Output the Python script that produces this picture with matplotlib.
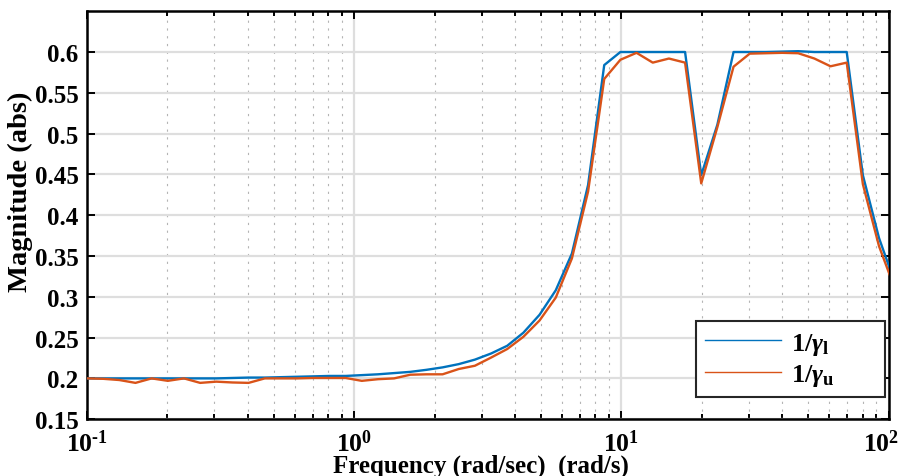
import matplotlib
matplotlib.use("Agg")
import matplotlib.pyplot as plt
import matplotlib.transforms as mtransforms
from matplotlib.ticker import FixedLocator, FixedFormatter, LogLocator, NullFormatter

# Frequency grid (rad/s), log spaced
freq = [0.1, 0.1149, 0.1321, 0.1519, 0.1746, 0.2007, 0.2307, 0.2652, 0.3048,
        0.3503, 0.4027, 0.4629, 0.5321, 0.6116, 0.7031, 0.8082, 0.9290, 1.068,
        1.227, 1.411, 1.622, 1.864, 2.143, 2.463, 2.831, 3.254, 3.741, 4.300,
        4.943, 5.683, 6.531, 7.508, 8.630, 9.920, 11.40, 13.11, 15.07, 17.32,
        19.91, 22.88, 26.30, 30.24, 34.75, 39.95, 45.92, 52.79, 60.67, 69.75,
        80.17, 92.15, 105.9]

# 1/gamma_l (lower bound)
inv_gamma_l = [0.200, 0.200, 0.200, 0.200, 0.200, 0.200, 0.200, 0.200, 0.200,
               0.2005, 0.201, 0.201, 0.2015, 0.202, 0.2025, 0.203, 0.203, 0.204,
               0.205, 0.2065, 0.208, 0.2105, 0.2135, 0.2175, 0.223, 0.2305, 0.240,
               0.256, 0.278, 0.308, 0.353, 0.437, 0.584, 0.600, 0.600, 0.600,
               0.600, 0.600, 0.449, 0.511, 0.600, 0.600, 0.600, 0.6005, 0.601,
               0.600, 0.600, 0.600, 0.449, 0.372, 0.316]

# 1/gamma_u (upper bound)
inv_gamma_u = [0.200, 0.1995, 0.198, 0.1945, 0.200, 0.197, 0.200, 0.1945, 0.196,
               0.195, 0.1945, 0.200, 0.200, 0.200, 0.2005, 0.2005, 0.2005, 0.197,
               0.199, 0.200, 0.2045, 0.205, 0.205, 0.2115, 0.2155, 0.2255, 0.236,
               0.251, 0.271, 0.299, 0.347, 0.429, 0.567, 0.5905, 0.599, 0.587,
               0.592, 0.587, 0.439, 0.508, 0.582, 0.598, 0.5985, 0.599, 0.5985,
               0.592, 0.5825, 0.587, 0.438, 0.362, 0.309]

x_ticks = [0.1, 1, 10, 100]
x_tick_labels = [r"$10^{\text{-}1}$", r"$10^{0}$", r"$10^{1}$", r"$10^{2}$"]
y_ticks = [0.15, 0.2, 0.25, 0.3, 0.35, 0.4, 0.45, 0.5, 0.55, 0.6]
y_tick_labels = ["0.15", "0.2", "0.25", "0.3", "0.35", "0.4", "0.45", "0.5", "0.55", "0.6"]

plt.rcParams.update({
    "font.family": ["Liberation Serif", "DejaVu Serif"],
    "font.weight": "bold",
    "mathtext.fontset": "custom",
    "mathtext.rm": "Liberation Serif:bold",
    "mathtext.it": "Liberation Serif:italic:bold",
    "mathtext.bf": "Liberation Serif:bold",
})

BLUE = "#0072BD"
ORANGE = "#D95319"

fig = plt.figure(figsize=(9.06, 4.77), dpi=100)
ax = fig.add_axes([0.0960, 0.1191, 0.8847, 0.8553])

ax.plot(freq, inv_gamma_l, color=BLUE, lw=1.7, label=r"$1/\gamma_{\mathrm{l}}$", zorder=3)
ax.plot(freq, inv_gamma_u, color=ORANGE, lw=1.7, label=r"$1/\gamma_{\mathrm{u}}$", zorder=4)

ax.set_xscale("log")
ax.set_xlim(0.1, 100)
ax.set_ylim(0.15, 0.65)

ax.xaxis.set_major_locator(FixedLocator(x_ticks))
ax.xaxis.set_major_formatter(FixedFormatter(x_tick_labels))
ax.xaxis.set_minor_locator(LogLocator(base=10, subs=range(2, 10), numticks=20))
ax.xaxis.set_minor_formatter(NullFormatter())
ax.yaxis.set_major_locator(FixedLocator(y_ticks))
ax.yaxis.set_major_formatter(FixedFormatter(y_tick_labels))

ax.grid(True, which="major", color="#dedede", lw=1.6, ls="-", zorder=0)
ax.grid(True, which="minor", axis="x", color="#b4b4b4", lw=0.8, ls=(0, (2, 5)), zorder=0)
ax.set_axisbelow(True)

ax.tick_params(which="both", direction="in", top=True, right=True, width=1.4, pad=6)
ax.tick_params(axis="y", labelsize=18)
ax.tick_params(axis="x", labelsize=18.5, pad=7)
ax.tick_params(which="major", length=6)
ax.tick_params(which="minor", length=3.5)
for s in ax.spines.values():
    s.set_linewidth(1.8)
    s.set_color("black")

# keep the rightmost decade label inside the figure
last = ax.xaxis.get_majorticklabels()[-1]
last.set_transform(last.get_transform() +
                   mtransforms.ScaledTranslation(-7 / 100, 0, fig.dpi_scale_trans))

ax.set_xlabel("Frequency (rad/sec)  (rad/s)", fontsize=18, fontweight="bold")
ax.xaxis.set_label_coords(0.491, -0.085)
ax.set_ylabel("Magnitude (abs)", fontsize=20.5, fontweight="bold")
ax.yaxis.set_label_coords(-0.067, 0.56)

leg = ax.legend(loc="lower left", bbox_to_anchor=(0.760, 0.054, 0.236, 0.196),
                mode="expand", borderaxespad=0, fontsize=19, fancybox=False,
                edgecolor="#262626", framealpha=1, handlelength=2.85,
                handletextpad=0.4, borderpad=0.35, labelspacing=0.2)
leg.get_frame().set_linewidth(1.5)
for line in leg.get_lines():
    line.set_linewidth(1.0)

fig.savefig("out.png", dpi=100)
